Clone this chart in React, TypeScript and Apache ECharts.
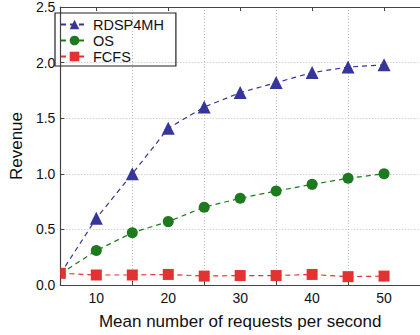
import React, { useEffect, useRef } from "react";
import * as echarts from "echarts";

const xValues = [5, 10, 15, 20, 25, 30, 35, 40, 45, 50];
const rdsp4mh = [0.1, 0.6, 1.0, 1.41, 1.6, 1.73, 1.82, 1.91, 1.96, 1.98];
const os = [0.1, 0.31, 0.47, 0.57, 0.7, 0.78, 0.845, 0.905, 0.96, 1.0];
const fcfs = [0.105, 0.09, 0.09, 0.095, 0.08, 0.085, 0.085, 0.095, 0.075, 0.08];

const seriesNames = ["RDSP4MH", "OS", "FCFS"];
const seriesColors = ["#35359a", "#1e7a1e", "#e23232"];
const seriesSymbols = ["triangle", "circle", "rect"];
const seriesSizes = [13, 11, 11];
const seriesData = [rdsp4mh, os, fcfs];

const FONT = "Liberation Sans, Arial, sans-serif";

export default function App() {
  const ref = useRef<HTMLDivElement>(null);
  useEffect(() => {
    if (!ref.current) return;
    const chart = echarts.init(ref.current, undefined, { renderer: "svg" });
    const axisLine = { show: true, lineStyle: { color: "#444", width: 1.2 } };
    const xMin = 5;
    chart.setOption({
      animation: false,
      backgroundColor: "#fff",
      textStyle: { fontFamily: FONT },
      grid: { left: 49, top: 7, bottom: 44, right: -4, show: false },
      legend: {
        left: 55,
        top: 13,
        orient: "vertical",
        borderColor: "#222",
        borderWidth: 1.2,
        padding: [4, 12, 2, 5],
        itemGap: 1,
        itemWidth: 27,
        itemHeight: 12,
        textStyle: { fontFamily: FONT, fontSize: 14.5, color: "#111", lineHeight: 15 },
        data: seriesNames,
      },
      xAxis: [
        {
          type: "value",
          min: xMin,
          max: 55,
          interval: 10,
          position: "bottom",
          axisLine,
          axisTick: { show: true, inside: true, length: 4, lineStyle: { color: "#444" } },
          axisLabel: {
            fontSize: 14,
            color: "#111",
            margin: 6,
            fontFamily: FONT,
            formatter: (v: number) => (v === 5 || v === 55 ? "" : String(v)),
            customValues: [10, 20, 30, 40, 50],
          },
          splitLine: { show: true, lineStyle: { color: "#bbb", type: [1, 2] } },
          name: "Mean number of requests per second",
          nameLocation: "middle",
          nameGap: 28,
          nameTextStyle: { fontSize: 17, color: "#111", fontFamily: FONT },
        },
        {
          type: "value",
          min: xMin,
          max: 55,
          position: "top",
          axisLine,
          axisTick: { show: true, inside: true, length: 4, customValues: [10, 20, 30, 40, 50], lineStyle: { color: "#444" } },
          axisLabel: { show: false },
          splitLine: { show: false },
        },
      ],
      yAxis: [
        {
          type: "value",
          min: 0,
          max: 2.5,
          interval: 0.5,
          position: "left",
          axisLine,
          axisTick: { show: true, inside: true, length: 4, lineStyle: { color: "#444" } },
          axisLabel: {
            fontSize: 14,
            color: "#111",
            margin: 5,
            fontFamily: FONT,
            formatter: (v: number) => v.toFixed(1),
          },
          splitLine: { show: true, lineStyle: { color: "#bbb", type: [1, 2] } },
          name: "Revenue",
          nameLocation: "middle",
          nameGap: 28,
          nameTextStyle: { fontSize: 17, color: "#111", fontFamily: FONT },
        },
      ],
      series: seriesNames.map((name, i) => ({
        name,
        type: "line",
        data: xValues.map((x, j) => {
          const item: any = { value: [x, seriesData[i][j]] };
          if (x === xMin) {
            // marker clipped by the left axis: only its right half shows
            if (seriesSymbols[i] === "rect") {
              item.symbolSize = [seriesSizes[i] / 2, seriesSizes[i]];
              item.symbolOffset = [seriesSizes[i] / 4, 0];
            } else {
              item.symbol = "none";
            }
          }
          return item;
        }),
        symbol: seriesSymbols[i],
        symbolSize: seriesSizes[i],
        itemStyle: { color: seriesColors[i] },
        lineStyle: { color: seriesColors[i], width: 1.2, type: [5, 4] },
        clip: false,
        z: 2 + i,
      })),
    });
    return () => chart.dispose();
  }, []);
  return <div ref={ref} style={{ width: 420, height: 335, position: "absolute", left: 0, top: 0 }} />;
}
